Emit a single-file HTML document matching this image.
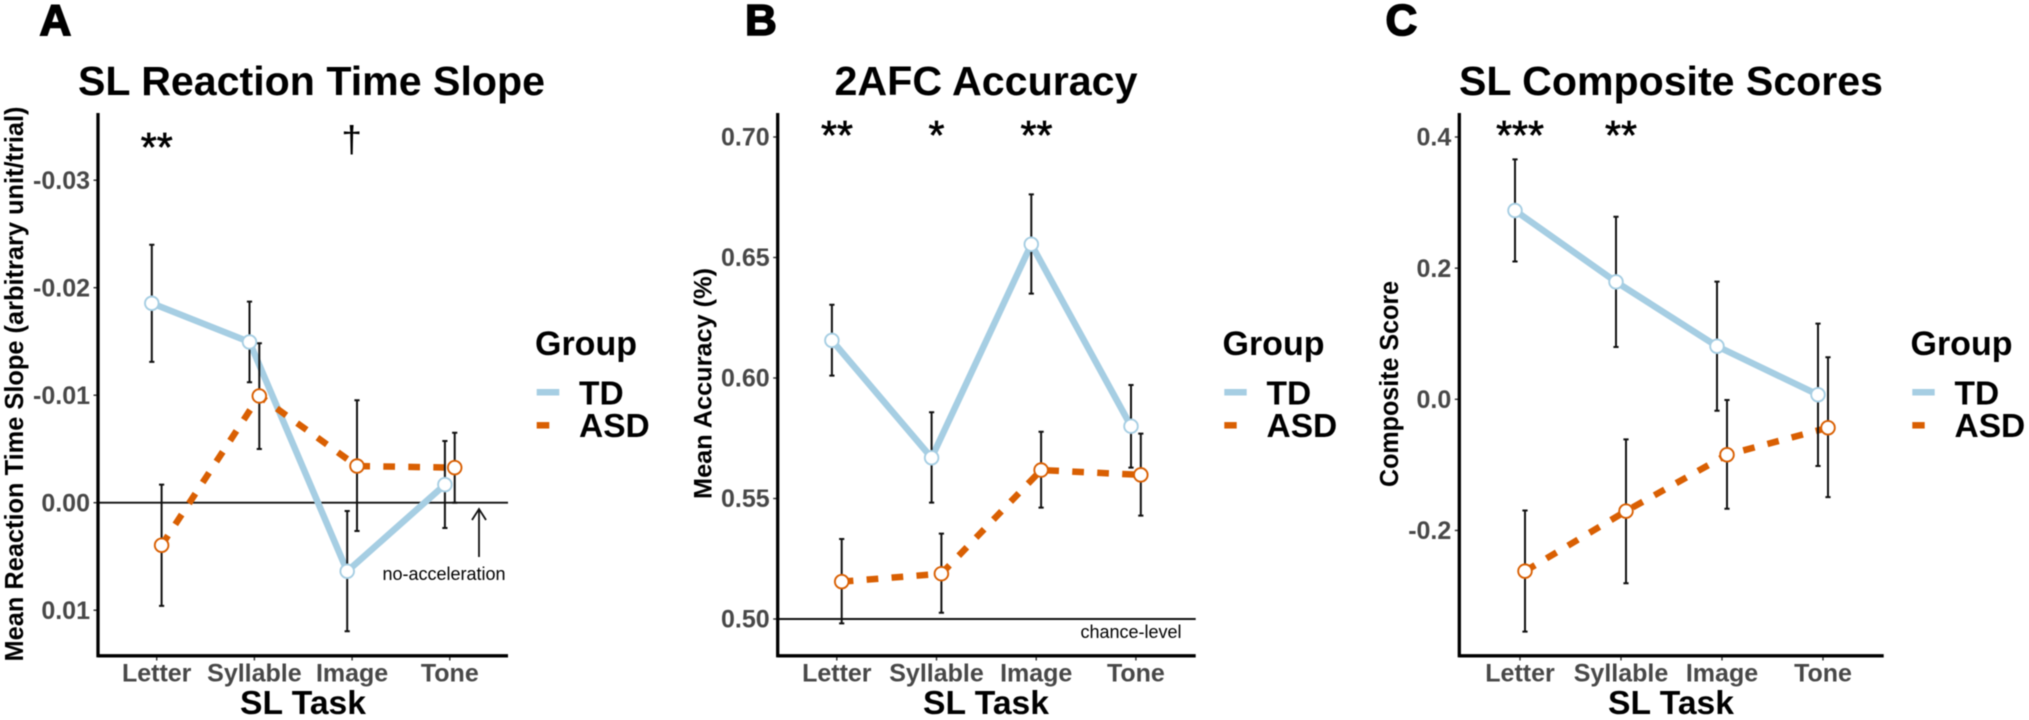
<!DOCTYPE html>
<html lang="en">
<head>
<meta charset="utf-8">
<title>SL task results by group</title>
<style>
html,body{margin:0;padding:0;background:#fff;width:2029px;height:720px;overflow:hidden}
svg{display:block;filter:blur(0.45px)}
text{font-family:"Liberation Sans",Arial,sans-serif}
.panel-letter{font-size:44px;font-weight:700;stroke:#000;stroke-width:1.6px}
.title{font-size:41px;font-weight:700;text-anchor:middle}
.ytitle{font-size:26px;font-weight:700;text-anchor:middle}
.xtitle{font-size:33px;font-weight:700;text-anchor:middle}
.legend-title{font-size:34px;font-weight:700}
.legend-label{font-size:33.5px;font-weight:700}
.star{font-size:41px;font-weight:400;text-anchor:middle;stroke:#000;stroke-width:.7px}
.note{font-size:18px;text-anchor:middle}
</style>
</head>
<body>
<svg id="figure" width="2029" height="720" viewBox="0 0 2029 720" xmlns="http://www.w3.org/2000/svg">
  <rect width="2029" height="720" fill="#fff"/>

  <text class="panel-letter" x="39.5" y="35">A</text>
  <text class="panel-letter" x="745" y="35">B</text>
  <text class="panel-letter" x="1385.5" y="35">C</text>

  <text class="title" x="311.5" y="95" textLength="467" lengthAdjust="spacingAndGlyphs">SL Reaction Time Slope</text>
  <text class="title" x="986" y="95" textLength="303" lengthAdjust="spacingAndGlyphs">2AFC Accuracy</text>
  <text class="title" x="1671" y="95" textLength="424" lengthAdjust="spacingAndGlyphs">SL Composite Scores</text>

  <text class="ytitle" transform="translate(23,384) rotate(-90)" textLength="555" lengthAdjust="spacingAndGlyphs">Mean Reaction Time Slope (arbitrary unit/trial)</text>
  <text class="ytitle" style="font-size:25px" transform="translate(711.5,383.5) rotate(-90)" textLength="231" lengthAdjust="spacingAndGlyphs">Mean Accuracy (%)</text>
  <text class="ytitle" style="font-size:25.5px" transform="translate(1398,384) rotate(-90)" textLength="206" lengthAdjust="spacingAndGlyphs">Composite Score</text>

  <text class="xtitle" x="303" y="714" textLength="126" lengthAdjust="spacingAndGlyphs">SL Task</text>
  <text class="xtitle" x="986" y="714" textLength="126" lengthAdjust="spacingAndGlyphs">SL Task</text>
  <text class="xtitle" x="1671" y="714" textLength="126" lengthAdjust="spacingAndGlyphs">SL Task</text>

  <g id="plots"></g>

  <text class="star" x="156.7" y="161">**</text>
  <text x="351.7" y="152" font-size="37" text-anchor="middle">†</text>
  <text class="star" x="837" y="149">**</text>
  <text class="star" x="936.5" y="149">*</text>
  <text class="star" x="1036.5" y="149">**</text>
  <text class="star" x="1520" y="149">***</text>
  <text class="star" x="1621" y="149">**</text>

  <text class="note" x="444" y="580">no-acceleration</text>
  <g fill="none" stroke="#111" stroke-width="1.8">
    <line x1="479" y1="557" x2="479" y2="509"/>
    <polyline points="472,520 479,509 486,520"/>
  </g>
  <text class="note" x="1131" y="638">chance-level</text>

  <g>
    <text class="legend-title" x="535" y="355">Group</text>
    <line x1="536.7" y1="392.3" x2="559.3" y2="392.3" stroke="#a6cee3" stroke-width="6.5"/>
    <line x1="536.7" y1="425.3" x2="549.3" y2="425.3" stroke="#d95f02" stroke-width="6.5"/>
    <text class="legend-label" x="579" y="404.5">TD</text>
    <text class="legend-label" x="579" y="437">ASD</text>
  </g>
  <g>
    <text class="legend-title" x="1222.5" y="355">Group</text>
    <line x1="1224.3" y1="392.3" x2="1246.7" y2="392.3" stroke="#a6cee3" stroke-width="6.5"/>
    <line x1="1224.3" y1="425.3" x2="1236.7" y2="425.3" stroke="#d95f02" stroke-width="6.5"/>
    <text class="legend-label" x="1266.5" y="404.5">TD</text>
    <text class="legend-label" x="1266.5" y="437">ASD</text>
  </g>
  <g>
    <text class="legend-title" x="1910.5" y="355">Group</text>
    <line x1="1912.3" y1="392.3" x2="1934.7" y2="392.3" stroke="#a6cee3" stroke-width="6.5"/>
    <line x1="1912.3" y1="425.3" x2="1924.7" y2="425.3" stroke="#d95f02" stroke-width="6.5"/>
    <text class="legend-label" x="1954.5" y="404.5">TD</text>
    <text class="legend-label" x="1954.5" y="437">ASD</text>
  </g>
</svg>

<script>
const categories = ['Letter', 'Syllable', 'Image', 'Tone'];

const rtTickValues = [-0.03, -0.02, -0.01, 0, 0.01];
const rtTickLabels = ['-0.03', '-0.02', '-0.01', '0.00', '0.01'];
const rtTdMean = [-0.01855, -0.01495, 0.00638, -0.00168];
const rtTdUpper = [-0.0240, -0.0187, 0.00077, -0.00574];
const rtTdLower = [-0.0131, -0.0112, 0.01196, 0.00235];
const rtAsdMean = [0.00396, -0.00993, -0.00341, -0.00326];
const rtAsdUpper = [-0.00168, -0.01483, -0.00953, -0.00651];
const rtAsdLower = [0.0096, -0.0050, 0.00263, 0];
const rtReferenceLine = 0;

const accTickValues = [0.70, 0.65, 0.60, 0.55, 0.50];
const accTickLabels = ['0.70', '0.65', '0.60', '0.55', '0.50'];
const accTdMean = [0.6156, 0.5669, 0.6555, 0.5800];
const accTdUpper = [0.6304, 0.5858, 0.6762, 0.5971];
const accTdLower = [0.6010, 0.5483, 0.6350, 0.5628];
const accAsdMean = [0.5155, 0.5188, 0.5618, 0.5598];
const accAsdUpper = [0.5332, 0.5354, 0.5777, 0.5769];
const accAsdLower = [0.4982, 0.5026, 0.5462, 0.5429];
const accReferenceLine = 0.50;

const compTickValues = [0.4, 0.2, 0, -0.2];
const compTickLabels = ['0.4', '0.2', '0.0', '-0.2'];
const compTdMean = [0.2879, 0.1791, 0.0809, 0.0070];
const compTdUpper = [0.3658, 0.2783, 0.1795, 0.1154];
const compTdLower = [0.2101, 0.0798, -0.0174, -0.1018];
const compAsdMean = [-0.2621, -0.1705, -0.0846, -0.0434];
const compAsdUpper = [-0.1695, -0.0611, -0.0010, 0.0641];
const compAsdLower = [-0.3542, -0.2805, -0.1670, -0.1492];

const SVG_NS = 'http://www.w3.org/2000/svg';
const plots = document.getElementById('plots');

function make(parent, tag, attrs, text) {
  const node = document.createElementNS(SVG_NS, tag);
  for (const key in attrs) node.setAttribute(key, attrs[key]);
  if (text !== undefined) node.textContent = text;
  parent.appendChild(node);
  return node;
}

function linearScale(v1, p1, v2, p2) {
  return function (v) { return p1 + (v - v1) * (p2 - p1) / (v2 - v1); };
}

function drawSeries(group, name, means, xOf, yOf, color, dashed) {
  const line = make(group, 'polyline', {
    points: means.map(function (m, i) { return xOf(i) + ',' + yOf(m); }).join(' '),
    fill: 'none',
    stroke: color,
    'stroke-width': 6.5,
    'stroke-linejoin': 'round',
    'stroke-dasharray': dashed ? '11.7 13.3' : 'none'
  });
  
  
  return line;
}

function drawErrorBars(group, name, uppers, lowers, xOf, yOf) {
  uppers.forEach(function (u, i) {
    const x = xOf(i);
    const bar = make(group, 'path', {
      d: 'M' + (x - 2.6) + ' ' + yOf(u) + 'H' + (x + 2.6) +
         'M' + x + ' ' + yOf(u) + 'V' + yOf(lowers[i]) +
         'M' + (x - 2.6) + ' ' + yOf(lowers[i]) + 'H' + (x + 2.6),
      fill: 'none',
      stroke: '#111',
      'stroke-width': 2
    });
    
    
  });
}

function drawPoints(group, name, means, xOf, yOf, color) {
  means.forEach(function (m, i) {
    const point = make(group, 'circle', {
      cx: xOf(i),
      cy: yOf(m),
      r: 6.8,
      fill: '#fff',
      stroke: color,
      'stroke-width': 1.9
    });
    
    
  });
}

function drawPanel(cfg) {
  const group = make(plots, 'g', {});
  
  

  const yOf = linearScale(cfg.v1, cfg.p1, cfg.v2, cfg.p2);
  const tickX = function (i) { return cfg.x0 + i * cfg.dx; };
  const tdX = function (i) { return tickX(i) - cfg.dodge; };
  const asdX = function (i) { return tickX(i) + cfg.dodge; };

  cfg.tickValues.forEach(function (v, i) {
    const tick = make(group, 'line', {
      x1: cfg.axisX - 4.5, x2: cfg.axisX, y1: yOf(v), y2: yOf(v), stroke: '#333', 'stroke-width': 1.4
    });
    
    
    const label = make(group, 'text', {
      x: cfg.axisX - 8,
      y: yOf(v) + 8.7,
      'text-anchor': 'end',
      'font-size': 25,
      'font-weight': 700,
      fill: '#484848'
    }, cfg.tickLabels[i]);
    
    
  });

  categories.forEach(function (c, i) {
    const tick = make(group, 'line', {
      x1: tickX(i), x2: tickX(i), y1: 656, y2: 660.5, stroke: '#333', 'stroke-width': 1.4
    });
    
    
    const label = make(group, 'text', {
      x: tickX(i),
      y: 681.5,
      'text-anchor': 'middle',
      'font-size': 25,
      'font-weight': 700,
      fill: '#484848'
    }, c);
    
    
  });

  if (cfg.reference !== undefined) {
    const ref = make(group, 'line', {
      x1: cfg.axisX, x2: cfg.axisRight, y1: yOf(cfg.reference), y2: yOf(cfg.reference), stroke: '#111', 'stroke-width': 1.9
    });
    
    
  }

  drawSeries(group, 'td', cfg.tdMean, tdX, yOf, '#a6cee3', false);
  drawSeries(group, 'asd', cfg.asdMean, asdX, yOf, '#d95f02', true);
  drawErrorBars(group, 'td', cfg.tdUpper, cfg.tdLower, tdX, yOf);
  drawErrorBars(group, 'asd', cfg.asdUpper, cfg.asdLower, asdX, yOf);
  drawPoints(group, 'td', cfg.tdMean, tdX, yOf, '#a6cee3');
  drawPoints(group, 'asd', cfg.asdMean, asdX, yOf, '#d95f02');

  const yAxis = make(group, 'line', {
    x1: cfg.axisX, x2: cfg.axisX, y1: 113, y2: 657.4, stroke: '#000', 'stroke-width': 3.3
  });
  
  
  const xAxis = make(group, 'line', {
    x1: cfg.axisX, x2: cfg.axisRight, y1: 655.8, y2: 655.8, stroke: '#000', 'stroke-width': 3.3
  });
  
  
}

drawPanel({
  name: 'panel-a-plot', axisX: 98, axisRight: 508, x0: 156.7, dx: 97.7, dodge: 4.9,
  v1: 0, p1: 502.7, v2: 0.01, p2: 610.2,
  tickValues: rtTickValues, tickLabels: rtTickLabels, reference: rtReferenceLine,
  tdMean: rtTdMean, tdUpper: rtTdUpper, tdLower: rtTdLower,
  asdMean: rtAsdMean, asdUpper: rtAsdUpper, asdLower: rtAsdLower
});
drawPanel({
  name: 'panel-b-plot', axisX: 777.7, axisRight: 1195.7, x0: 836.8, dx: 99.7, dodge: 4.9,
  v1: 0.50, p1: 619, v2: 0.70, p2: 137,
  tickValues: accTickValues, tickLabels: accTickLabels, reference: accReferenceLine,
  tdMean: accTdMean, tdUpper: accTdUpper, tdLower: accTdLower,
  asdMean: accAsdMean, asdUpper: accAsdUpper, asdLower: accAsdLower
});
drawPanel({
  name: 'panel-c-plot', axisX: 1459.3, axisRight: 1883.7, x0: 1520, dx: 101, dodge: 5,
  v1: 0, p1: 399.3, v2: 0.4, p2: 137,
  tickValues: compTickValues, tickLabels: compTickLabels,
  tdMean: compTdMean, tdUpper: compTdUpper, tdLower: compTdLower,
  asdMean: compAsdMean, asdUpper: compAsdUpper, asdLower: compAsdLower
});
</script>
</body>
</html>
